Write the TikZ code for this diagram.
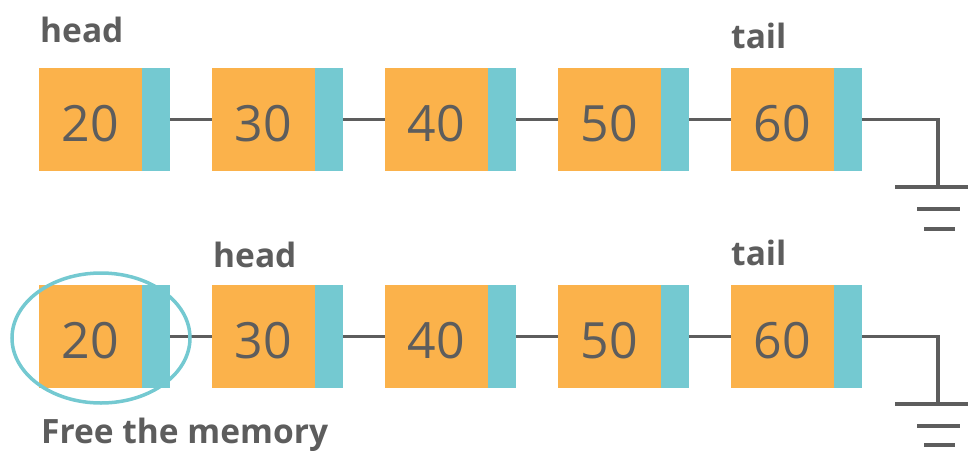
\documentclass[tikz,border=0pt]{standalone}
\usepackage{fontspec}
\setmainfont{Open Sans}
\usetikzlibrary{shapes.geometric}
\definecolor{boxorange}{HTML}{FBB24B}
\definecolor{ptrteal}{HTML}{74C9D1}
\definecolor{inkgray}{HTML}{5D5D5D}
\begin{document}
\begin{tikzpicture}[x=1pt, y=-1pt, every node/.style={inner sep=0pt, text=inkgray},
    data/.style={fill=boxorange, minimum width=103pt, minimum height=103pt, text height=44pt, text depth=0pt, font=\fontsize{50}{50}\selectfont},
    ptr/.style={fill=ptrteal, minimum width=28pt, minimum height=103pt},
    tag/.style={anchor=base west, font=\bfseries\fontsize{33.5}{33.5}\selectfont},
    wire/.style={draw=inkgray, line width=3.8pt}]
            \clip (0,0) rectangle (968,450);
            % Nodes, first list
            \node[data] (a20) at (90.5,119.5) {20};
            \node[ptr] (pa20) at (156,119.5) {};
            \node[data] (a30) at (263.5,119.5) {30};
            \node[ptr] (pa30) at (329,119.5) {};
            \node[data] (a40) at (436.5,119.5) {40};
            \node[ptr] (pa40) at (502,119.5) {};
            \node[data] (a50) at (609.5,119.5) {50};
            \node[ptr] (pa50) at (675,119.5) {};
            \node[data] (a60) at (782.5,119.5) {60};
            \node[ptr] (pa60) at (848,119.5) {};
            \node[tag] (headA) at (40,42) {head};
            \node[tag] (tailA) at (731,48) {tail};
            \coordinate (gndA) at (938,187);
            % Nodes, second list
            \node[data] (b20) at (90.5,336.5) {20};
            \node[ptr] (pb20) at (156,336.5) {};
            \node[data] (b30) at (263.5,336.5) {30};
            \node[ptr] (pb30) at (329,336.5) {};
            \node[data] (b40) at (436.5,336.5) {40};
            \node[ptr] (pb40) at (502,336.5) {};
            \node[data] (b50) at (609.5,336.5) {50};
            \node[ptr] (pb50) at (675,336.5) {};
            \node[data] (b60) at (782.5,336.5) {60};
            \node[ptr] (pb60) at (848,336.5) {};
            \node[tag] (headB) at (213,267) {head};
            \node[tag] (tailB) at (731,265) {tail};
            \node[tag] (freed) at (41,443) {Free the memory};
            \coordinate (gndB) at (938,404);
            % Edges
            \draw[wire] (pa20) -- (a30);
            \draw[wire] (pa30) -- (a40);
            \draw[wire] (pa40) -- (a50);
            \draw[wire] (pa50) -- (a60);
            \draw[wire] (pa60.east) -| (gndA);
            \draw[wire] (pb20) -- (b30);
            \draw[wire] (pb30) -- (b40);
            \draw[wire] (pb40) -- (b50);
            \draw[wire] (pb50) -- (b60);
            \draw[wire] (pb60.east) -| (gndB);
            % Ground
            \draw[wire] (gndA) ++(-43,0) -- ++(86,0) (gndA) ++(-21,22) -- ++(43,0) (gndA) ++(-14,42) -- ++(31,0);
            \draw[wire] (gndB) ++(-43,0) -- ++(86,0) (gndB) ++(-21,22) -- ++(43,0) (gndB) ++(-14,41) -- ++(31,0);
            % Freed element
            \node[ellipse, draw=ptrteal, line width=3.5pt, minimum width=178pt, minimum height=130pt] (ring) at (101,338) {};
        \end{tikzpicture}
\end{document}
